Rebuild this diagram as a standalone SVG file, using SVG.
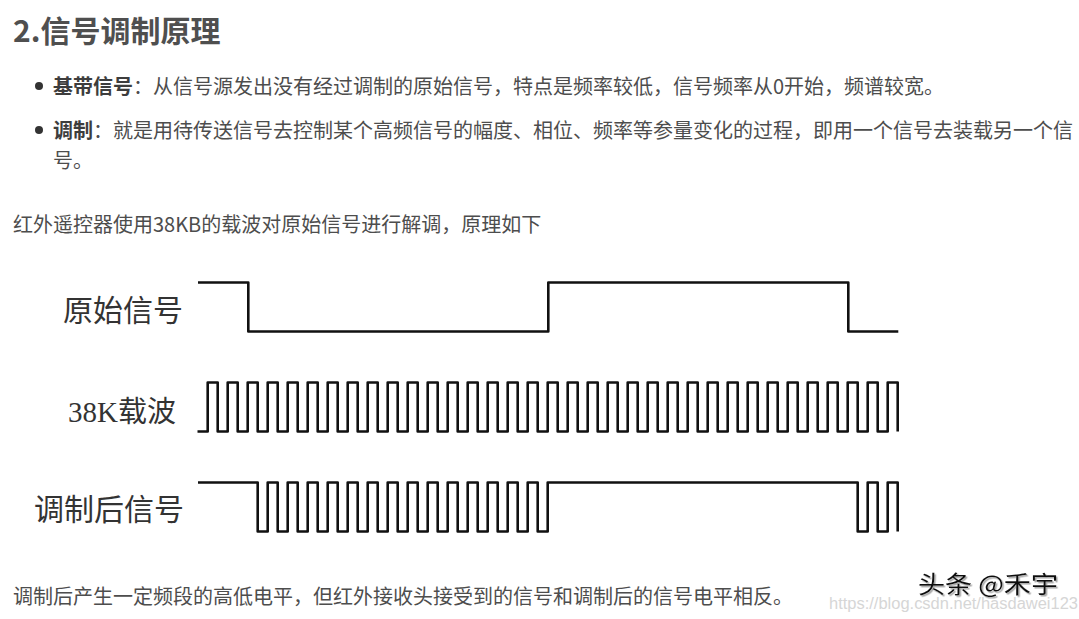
<svg xmlns="http://www.w3.org/2000/svg" width="1079" height="619" viewBox="0 0 1079 619">
  <defs>
    <style>
      .title { font-family: "Noto Sans CJK SC", "Liberation Sans", sans-serif; font-size: 30px; font-weight: bold; fill: #4f4f4f; }
      .body { font-family: "Noto Sans CJK SC", "Liberation Sans", sans-serif; font-size: 20px; fill: #4d4d4d; }
      .bold { font-weight: bold; fill: #3d3d3d; }
      .label { font-family: "Noto Sans CJK SC", sans-serif; font-size: 30px; fill: #333333; }
      .label-mixed { font-family: "Liberation Serif", "Noto Sans CJK SC", serif; font-size: 29px; fill: #333333; }
      .wave { fill: none; stroke: #111111; stroke-width: 2.6; stroke-linejoin: round; stroke-linecap: butt; }
      .bullet { fill: #333333; }
      .wm { font-family: "Liberation Sans", Arial, sans-serif; font-size: 16px; fill: #d6d6d6; }
      .brand { font-family: "Noto Sans CJK SC", sans-serif; font-size: 24px; fill: #111111; }
    </style>
    <filter id="shadow" x="-10%" y="-30%" width="120%" height="160%">
      <feDropShadow dx="1.5" dy="1.5" stdDeviation="0.6" flood-color="#9a9a9a" flood-opacity="0.9"/>
    </filter>
  </defs>

  <rect x="0" y="0" width="1079" height="619" fill="#ffffff"/>

  <g id="heading">
    <text class="title" x="13" y="42">2.信号调制原理</text>
  </g>

  <g id="bullet-1">
    <circle class="bullet" cx="39" cy="86" r="4"/>
    <text class="body" x="53" y="93.5"><tspan class="bold">基带信号</tspan>：从信号源发出没有经过调制的原始信号，特点是频率较低，信号频率从0开始，频谱较宽。</text>
  </g>

  <g id="bullet-2">
    <circle class="bullet" cx="39" cy="130" r="4"/>
    <text class="body" x="53" y="137.5"><tspan class="bold">调制</tspan>：就是用待传送信号去控制某个高频信号的幅度、相位、频率等参量变化的过程，即用一个信号去装载另一个信</text>
    <text class="body" x="53" y="168">号。</text>
  </g>

  <g id="intro">
    <text class="body" x="13" y="231.5">红外遥控器使用38KB的载波对原始信号进行解调，原理如下</text>
  </g>

  <g id="label-original">
    <text class="label" x="63" y="320.5">原始信号</text>
  </g>
  <g id="label-carrier">
    <text class="label-mixed" x="68" y="422">38K载波</text>
  </g>
  <g id="label-modulated">
    <text class="label" x="34" y="519.5">调制后信号</text>
  </g>

  <g id="waveforms">
    <path id="wave-original" class="wave" d="M198,282.5 H248.3 V331.5 H548.3 V282.5 H848.3 V331.5 H898.3"/>
    <path id="wave-carrier" class="wave" d="M197.5,431.5 H207.7
      v-49h10v49h10 v-49h10v49h10 v-49h10v49h10 v-49h10v49h10 v-49h10v49h10
      v-49h10v49h10 v-49h10v49h10 v-49h10v49h10 v-49h10v49h10 v-49h10v49h10
      v-49h10v49h10 v-49h10v49h10 v-49h10v49h10 v-49h10v49h10 v-49h10v49h10
      v-49h10v49h10 v-49h10v49h10 v-49h10v49h10 v-49h10v49h10 v-49h10v49h10
      v-49h10v49h10 v-49h10v49h10 v-49h10v49h10 v-49h10v49h10 v-49h10v49h10
      v-49h10v49h10 v-49h10v49h10 v-49h10v49h10 v-49h10v49h10 v-49h10v49h10
      v-49h10v49h10 v-49h10v49h10 v-49h10v49h10 v-49h10v49h10
      v-49h10v49"/>
    <path id="wave-modulated" class="wave" d="M198,482.5 H257.7
      v49h10v-49h10 v49h10v-49h10 v49h10v-49h10 v49h10v-49h10 v49h10v-49h10
      v49h10v-49h10 v49h10v-49h10 v49h10v-49h10 v49h10v-49h10 v49h10v-49h10
      v49h10v-49h10 v49h10v-49h10 v49h10v-49h10 v49h10v-49h10
      v49h10v-49
      H857.7 v49h10v-49h10 v49h10v-49h10 v49"/>
  </g>

  <g id="closing">
    <text class="body" x="13" y="604">调制后产生一定频段的高低电平，但红外接收头接受到的信号和调制后的信号电平相反。</text>
  </g>

  <g id="watermarks">
    <text class="wm" x="829" y="609" textLength="249" lengthAdjust="spacingAndGlyphs">https://blog.csdn.net/hasdawei123</text>
    <text class="brand" x="918" y="593" textLength="140" lengthAdjust="spacingAndGlyphs" filter="url(#shadow)">头条 @禾宇</text>
  </g>
</svg>
